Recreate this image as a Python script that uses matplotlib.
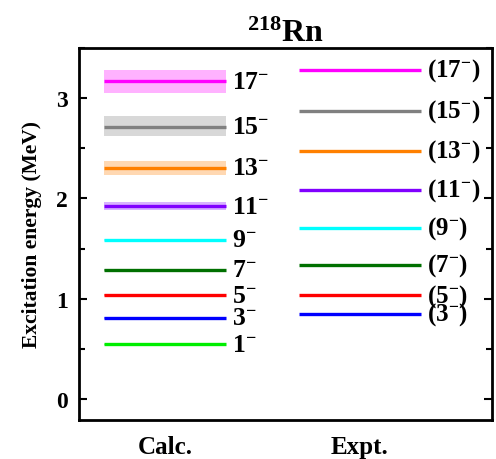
import matplotlib
matplotlib.use("Agg")
import matplotlib.pyplot as plt
from matplotlib.ticker import MultipleLocator

plt.rcParams['font.family'] = ['Liberation Serif', 'DejaVu Serif']
plt.rcParams['font.weight'] = 'bold'
plt.rcParams['mathtext.fontset'] = 'custom'
plt.rcParams['mathtext.rm'] = 'Liberation Serif:bold'
plt.rcParams['mathtext.bf'] = 'Liberation Serif:bold'
plt.rcParams['mathtext.it'] = 'Liberation Serif:bold'

spins = ["1", "3", "5", "7", "9", "11", "13", "15", "17"]
colors = ["#00ee00", "#0000ff", "#ff0000", "#007000", "#00ffff",
          "#8000ff", "#ff8000", "#808080", "#ff00ff"]
calc_E = [0.543, 0.81, 1.033, 1.29, 1.59, 1.923, 2.307, 2.717, 3.167]
calc_lo = [0.535, 0.80, 1.025, 1.28, 1.58, 1.88, 2.23, 2.62, 3.05]
calc_hi = [0.552, 0.82, 1.042, 1.30, 1.60, 1.96, 2.37, 2.82, 3.28]
expt_spins = ["3", "5", "7", "9", "11", "13", "15", "17"]
expt_colors = ["#0000ff", "#ff0000", "#007000", "#00ffff",
               "#8000ff", "#ff8000", "#808080", "#ff00ff"]
expt_E = [0.847, 1.033, 1.34, 1.707, 2.083, 2.473, 2.873, 3.283]
columns = ["Calc.", "Expt."]

fig = plt.figure(figsize=(4.96, 4.60), dpi=100)
ax = fig.add_axes([0.159, 0.0848, 0.833, 0.8087])

hw = 0.313
xc, xe = 1, 2
for s, c, e, lo, hi in zip(spins, colors, calc_E, calc_lo, calc_hi):
    ax.fill_between([xc - hw, xc + hw], lo, hi, color=c, alpha=0.3, lw=0)
    ax.plot([xc - hw, xc + hw], [e, e], color=c, lw=2.4, solid_capstyle='butt')
    ax.text(xc + hw + 0.03, e, r'$\mathbf{%s^{-}}$' % s, fontsize=18.5,
            va='center', ha='left')

for s, c, e in zip(expt_spins, expt_colors, expt_E):
    ax.plot([xe - hw, xe + hw], [e, e], color=c, lw=2.4, solid_capstyle='butt')
    ax.text(xe + hw + 0.03, e, r'$\mathbf{(%s^{-})}$' % s, fontsize=18,
            va='center', ha='left')

ax.set_xlim(0.559, 2.677)
ax.set_ylim(-0.21, 3.5)
ax.set_xticks([xc, xe])
ax.set_xticklabels(columns, fontsize=18, fontweight='bold')
ax.tick_params(axis='x', length=0, pad=11)
ax.yaxis.set_major_locator(MultipleLocator(1))
ax.yaxis.set_minor_locator(MultipleLocator(0.5))
ax.tick_params(axis='y', which='both', direction='in', right=True,
               width=1.5, labelsize=17)
ax.tick_params(axis='y', which='major', length=6, pad=8)
ax.tick_params(axis='y', which='minor', length=4)
for lab in ax.get_yticklabels():
    lab.set_fontweight('bold')
for sp in ax.spines.values():
    sp.set_linewidth(2)
ax.set_ylabel('Excitation energy (MeV)', fontsize=15.5, fontweight='bold',
              labelpad=10)
ax.set_title(r'$\mathbf{^{218}Rn}$', fontsize=23, pad=3)

fig.savefig('out.png', dpi=100)
